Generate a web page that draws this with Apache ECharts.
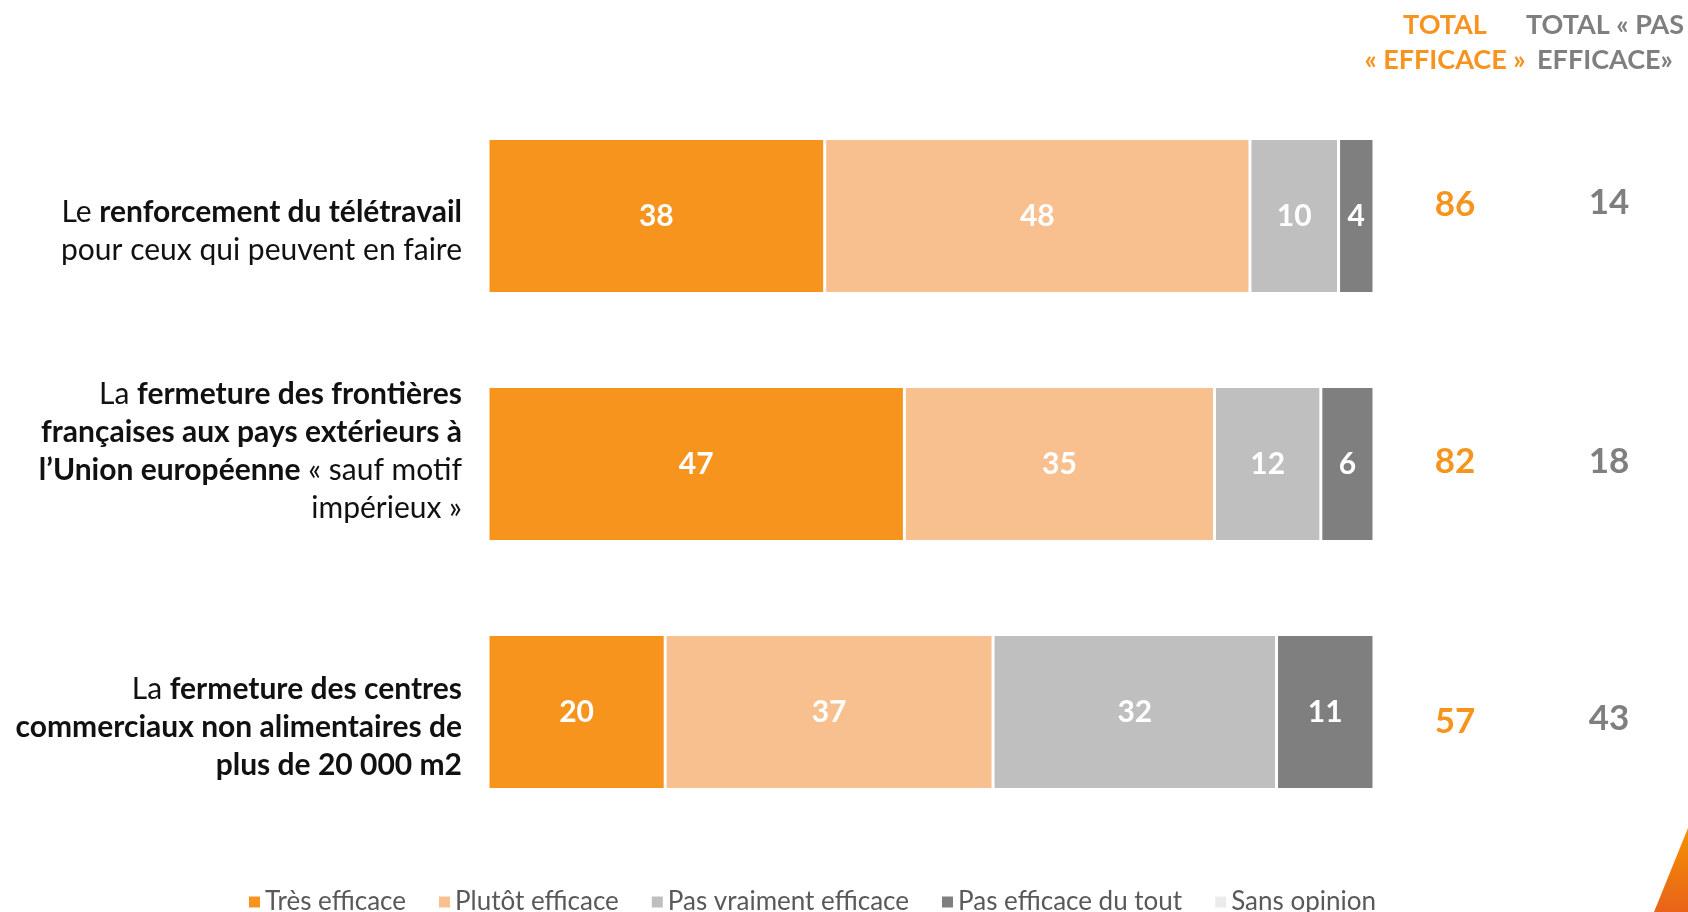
<!DOCTYPE html>
<html>
<head>
<meta charset="utf-8">
<script src="https://cdn.jsdelivr.net/npm/echarts@6/dist/echarts.min.js"></script>
<style>
html,body{margin:0;padding:0;background:#fff;}
#chart{width:1688px;height:912px;}
</style>
</head>
<body>
<div id="chart"></div>
<script>
// ---- data ----
var categories = [
  "Le {b|renforcement du télétravail}\npour ceux qui peuvent en faire",
  "La {b|fermeture des frontières}\n{b|françaises aux pays extérieurs à}\n{b|l’Union européenne} « sauf motif\nimpérieux »",
  "La {b|fermeture des centres}\n{b|commerciaux non alimentaires de}\n{b|plus de 20 000 m2}"
];
var seriesNames = ["Très efficace", "Plutôt efficace", "Pas vraiment efficace", "Pas efficace du tout", "Sans opinion"];
var tresEfficace = [38, 47, 20];
var plutotEfficace = [48, 35, 37];
var pasVraimentEfficace = [10, 12, 32];
var pasEfficaceDuTout = [4, 6, 11];
var sansOpinion = [0, 0, 0];
var totalEfficace = [86, 82, 57];
var totalPasEfficace = [14, 18, 43];
var headerEfficace = "TOTAL\n« EFFICACE »";
var headerPasEfficace = "TOTAL « PAS\nEFFICACE»";

// ---- chart ----
var colors = ["#F7941E", "#F9C08F", "#BFBFBF", "#7F7F7F", "#EBEBEB"];
var font = "Lato, 'Open Sans', sans-serif";
var values = [tresEfficace, plutotEfficace, pasVraimentEfficace, pasEfficaceDuTout, sansOpinion];

var series = values.map(function (arr, i) {
  return {
    name: seriesNames[i],
    type: "bar",
    stack: "total",
    barWidth: 155,
    data: arr,
    itemStyle: { color: colors[i], borderColor: "#fff", borderWidth: 1.5 },
    label: {
      show: true,
      position: "inside",
      color: "#fff",
      fontFamily: font,
      fontWeight: "bold",
      fontSize: 30,
      formatter: function (p) { return p.value > 0 ? p.value : ""; }
    },
    emphasis: { disabled: true }
  };
});

// small vertical nudges of the total labels, as in the original slide
var effShift = [[0, 0, 22, 0], [0, 0, 4, 0], [20, 0, 0, 0]];
var pasShift = [[0, 0, 26, 0], [0, 0, 4, 0], [14, 0, 0, 0]];
function richFor(shifts, color) {
  var r = {};
  shifts.forEach(function (p, i) {
    r["r" + i] = { padding: p, color: color, fontFamily: font, fontWeight: "bold", fontSize: 35 };
  });
  return r;
}
// vertical nudges of the category text blocks (spacer line: top or bottom)
var catSpacer = [["top", 30], ["bottom", 26], ["top", 30]];

var chart = echarts.init(document.getElementById("chart"), null, { renderer: "canvas" });
chart.setOption({
  animation: false,
  backgroundColor: "#fff",
  color: colors,
  grid: { left: 488, right: 314, top: 92, bottom: 76, containLabel: false },
  xAxis: { type: "value", min: 0, max: 100, show: false },
  yAxis: [
    {
      type: "category",
      data: categories,
      inverse: true,
      axisLine: { show: false },
      axisTick: { show: false },
      axisLabel: {
        margin: 26,
        align: "right",
        color: "#111",
        fontFamily: font,
        fontSize: 30,
        lineHeight: 38,
        formatter: function (v, i) {
          var s = catSpacer[i];
          var sp = "{s" + s[1] + "| }";
          return s[0] === "top" ? sp + "\n" + v : v + "\n" + sp;
        },
        rich: {
          b: { fontWeight: "bold", fontFamily: font, fontSize: 30, color: "#111", lineHeight: 38 },
          s30: { fontSize: 2, lineHeight: 30, height: 30 },
          s26: { fontSize: 2, lineHeight: 26, height: 26 }
        }
      }
    },
    {
      type: "category",
      data: totalEfficace.map(String),
      inverse: true,
      position: "right",
      axisLine: { show: false },
      axisTick: { show: false },
      axisLabel: {
        margin: 81, align: "center", color: "#F7941E",
        fontFamily: font, fontWeight: "bold", fontSize: 35,
        formatter: function (v, i) { return "{r" + i + "|" + v + "}"; },
        rich: richFor(effShift, "#F7941E")
      }
    },
    {
      type: "category",
      data: totalPasEfficace.map(String),
      inverse: true,
      position: "right",
      axisLine: { show: false },
      axisTick: { show: false },
      axisLabel: {
        margin: 235, align: "center", color: "#7F7F7F",
        fontFamily: font, fontWeight: "bold", fontSize: 35,
        formatter: function (v, i) { return "{r" + i + "|" + v + "}"; },
        rich: richFor(pasShift, "#7F7F7F")
      }
    }
  ],
  legend: {
    data: seriesNames,
    top: 884,
    left: 242,
    itemWidth: 13,
    itemHeight: 13,
    itemGap: 31,
    icon: "rect",
    textStyle: { color: "#595959", fontFamily: font, fontSize: 26, padding: [0, 0, 0, -1] }
  },
  graphic: [
    {
      type: "text", x: 1445, y: 8,
      style: {
        text: headerEfficace, fill: "#F7931E", font: "bold 27px " + font,
        align: "center", textAlign: "center", lineHeight: 35
      }
    },
    {
      type: "text", x: 1605, y: 8,
      style: {
        text: headerPasEfficace, fill: "#7F7F7F", font: "bold 27px " + font,
        align: "center", textAlign: "center", lineHeight: 35
      }
    },
    {
      type: "polygon",
      shape: { points: [[1688, 828], [1688, 912], [1654, 912]] },
      style: {
        fill: new echarts.graphic.LinearGradient(0, 0, 0, 1, [
          { offset: 0, color: "#F39200" }, { offset: 1, color: "#E9621A" }
        ])
      }
    }
  ],
  series: series
});
</script>
</body>
</html>
